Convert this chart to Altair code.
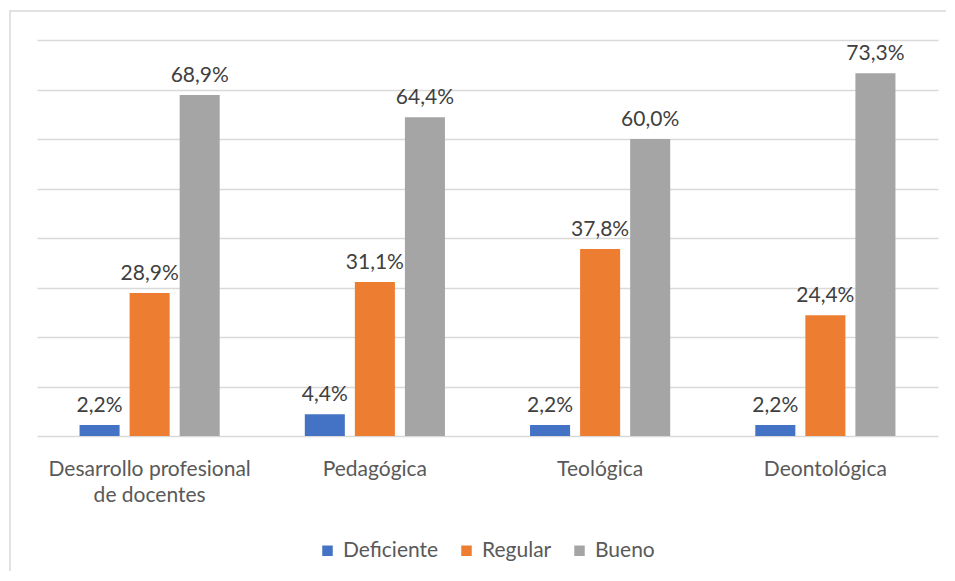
import altair as alt
import pandas as pd

categories = ["Desarrollo profesional de docentes", "Pedagógica", "Teológica", "Deontológica"]
series = ["Deficiente", "Regular", "Bueno"]
deficiente = [2.2, 4.4, 2.2, 2.2]
regular = [28.9, 31.1, 37.8, 24.4]
bueno = [68.9, 64.4, 60.0, 73.3]
colors = ["#4472C4", "#ED7D31", "#A5A5A5"]

rows = []
for s, vals in zip(series, [deficiente, regular, bueno]):
    for c, v in zip(categories, vals):
        rows.append({"cat": c, "serie": s, "valor": v,
                     "etiqueta": f"{v:.1f}%".replace(".", ",")})
df = pd.DataFrame(rows)

FONT = "Lato"

x = alt.X("cat:N", sort=categories, title=None,
          scale=alt.Scale(paddingInner=0.3333, paddingOuter=0.1667),
          axis=alt.Axis(domain=False, ticks=False, labelAngle=0, labelFontSize=21,
                        labelColor="#595959", labelFont=FONT, labelPadding=22,
                        labelLineHeight=26, labelBaseline="top", labelLimit=0,
                        labelExpr="datum.label == 'Desarrollo profesional de docentes' ? ['Desarrollo profesional', 'de docentes'] : datum.label"))
xo = alt.XOffset("serie:N", sort=series, scale=alt.Scale(paddingInner=0.2, paddingOuter=0.1))
y = alt.Y("valor:Q", title=None, scale=alt.Scale(domain=[0, 80], nice=False),
          axis=alt.Axis(values=[0, 10, 20, 30, 40, 50, 60, 70, 80], labels=False,
                        ticks=False, domain=False, grid=True, gridColor="#d9d9d9",
                        gridWidth=1.3))

bars = alt.Chart(df).mark_bar().encode(
    x=x, xOffset=xo, y=y,
    color=alt.Color("serie:N", sort=series,
                    scale=alt.Scale(domain=series, range=colors),
                    legend=alt.Legend(title=None, orient="none", direction="horizontal",
                                      legendX=280, legendY=500, symbolType="square",
                                      symbolSize=110, symbolStrokeWidth=0,
                                      labelFontSize=21, labelColor="#595959",
                                      labelFont=FONT, columnPadding=17, symbolOffset=0,
                                      labelOffset=5, labelLimit=0)),
)

labels = alt.Chart(df).mark_text(baseline="bottom", dy=-9, fontSize=21, color="#404040",
                                 font=FONT).encode(
    x=x, xOffset=xo, y=y, text="etiqueta:N")

border = alt.Chart(pd.DataFrame({"a": [0]})).mark_rect(
    fill=None, stroke="#d9d9d9", strokeWidth=1.5, clip=False).encode(
    x=alt.value(-27), x2=alt.value(960), y=alt.value(-29), y2=alt.value(600))

chart = alt.layer(border, bars, labels).properties(
    width=901, height=396,
    padding={"left": 29, "top": 32, "right": 8, "bottom": 135},
    autosize=alt.AutoSizeParams(type="none"),
    background="white",
).configure_view(stroke=None)

chart.save("out.html", embed_options={"renderer": "svg", "actions": False})
